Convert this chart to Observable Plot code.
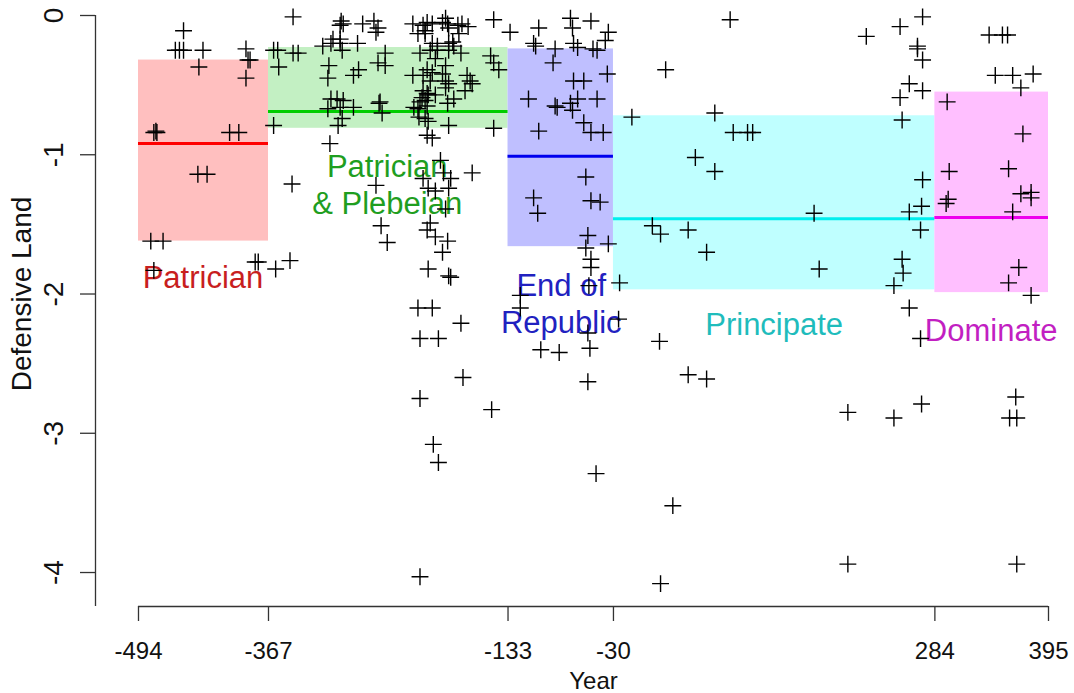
<!DOCTYPE html>
<html>
<head>
<meta charset="utf-8">
<script src="https://cdn.jsdelivr.net/npm/d3@7"></script>
<script src="https://cdn.jsdelivr.net/npm/@observablehq/plot@0.6"></script>
<style>
  html, body { margin: 0; padding: 0; background: #ffffff; overflow: hidden; }
</style>
</head>
<body>
<div id="chart"></div>
<script>
// ---- tick labels ----
const xTicks = [-494, -367, -133, -30, 284, 395];
const yTicks = [0, -1, -2, -3, -4];

// ---- periods ----
const periodNames = ["Patrician", "Patrician\n& Plebeian", "End of\nRepublic", "Principate", "Dominate"];
const periodStart = [-494, -367, -133, -30, 284];
const periodEnd = [-367, -133, -30, 284, 395];
const periodMean = [-0.92, -0.69, -1.01, -1.46, -1.45];
const periodHigh = [-0.32, -0.23, -0.24, -0.72, -0.55];
const periodLow = [-1.62, -0.81, -1.66, -1.97, -1.99];
const labelYear = [-431, -251, -81, 127, 339];
const labelValue = [-1.87, -1.21, -2.06, -2.21, -2.25];

// ---- observations ----
const years = [
  // Patrician
  -482, -470, -479, -479, -477, -476, -458, -454, -450, -450, -431, -435, -436, -427, -405, -396,
  -389, -387, -385, -389, -380, -377,
  // Patrician & Plebeian
  -362, -358, -357, -362, -360, -346, -343, -343, -338, -344, -307, -296, -294, -297, -275, -264,
  -260, -262, -314, -306, -304, -297, -297, -295, -280, -260, -308, -309, -279, -284, -306, -300,
  -294, -309, -297, -284, -259, -295, -299, -262, -257, -253, -253, -258, -256, -251,
  -226, -216, -212, -207, -197, -194, -192, -191, -182, -178, -172, -147, -221, -214, -214, -181,
  -207, -202, -191, -187, -186, -219, -209, -202, -191, -179, -204, -150, -147, -142, -194, -226,
  -216, -212, -209, -207, -197, -194, -191, -173, -170, -168, -175, -194, -216, -212, -217, -211,
  -204, -214, -219, -212, -225, -221, -192, -186, -220, -214, -211, -191, -147, -212, -207,
  -199, -196, -168, -216, -189, -211, -204, -191, -194, -209, -212, -204, -192, -197, -211, -191,
  -189, -221, -207, -179, -219, -201, -177, -219, -149, -206, -201, -219,
  // End of Republic
  -131, -103, -72, -52, -70, -35, -38, -108, -106, -87, -89, -69, -65, -50, -46, -36, -69, -59,
  -113, -103, -87, -85, -72, -65, -70, -46, -59, -52, -40, -57, -108, -104, -52, -43, -55, -57,
  -35, -52, -52, -54, -121, -121, -101, -83, -55, -53, -55, -47,
  // Principate
  -24, -25, -12, 21, 84, 69, 87, 101, 106, 50, 69, 166, 8, 16, 43, 61, 171, 15, 43, 61, 199, 28,
  16, 199, 217, 250, 272, 267, 267, 272, 259, 272, 250, 252, 272, 271, 259, 270, 252, 253, 244,
  259, 270, 244, 271,
  // Dominate
  337, 350, 355, 343, 360, 380, 368, 296, 370, 298, 356, 297, 295, 368, 378, 378, 360, 366, 356,
  378, 363, 357, 364, 364
];
const values = [
  // Patrician
  -1.62, -1.62, -1.83, -0.84, -0.83, -0.84, -0.25, -0.25, -0.25, -0.11, -0.25, -0.37, -1.14, -1.14, -0.84, -0.84,
  -0.24, -0.32, -0.32, -0.45, -1.77, -1.77,
  // Patrician & Plebeian
  -0.25, -0.25, -0.37, -0.79, -1.82, -1.76, -0.01, -0.27, -0.27, -1.21, -0.92, -0.04, -0.06, -0.07, -0.06, -0.04,
  -0.09, -0.12, -0.22, -0.20, -0.17, -0.17, -0.20, -0.25, -0.20, -0.34, -0.36, -0.45, -0.39, -0.43, -0.60, -0.60,
  -0.61, -0.67, -0.66, -0.66, -0.63, -0.74, -0.79, -1.22, -1.51, -0.27, -0.36, -0.62, -0.70, -1.63,
  -0.06, -0.07, -0.05, -0.06, -0.05, -0.02, -0.06, -0.09, -0.07, -0.06, -0.08, -0.03, -0.13, -0.13, -0.11, -0.13,
  -0.20, -0.22, -0.20, -0.19, -0.22, -0.27, -0.25, -0.25, -0.25, -0.27, -0.31, -0.29, -0.34, -0.39, -0.36, -0.43,
  -0.43, -0.39, -0.47, -0.41, -0.42, -0.47, -0.49, -0.43, -0.47, -0.49, -0.54, -0.52, -0.54, -0.56, -0.59, -0.57,
  -0.57, -0.61, -0.62, -0.65, -0.66, -0.67, -0.63, -0.60, -0.73, -0.74, -0.76, -0.79, -0.81, -0.86, -0.88,
  -1.04, -1.13, -1.13, -1.17, -1.17, -1.24, -1.26, -1.24, -1.39, -1.49, -1.54, -1.59, -1.62, -1.70, -1.82, -1.87,
  -1.88, -2.10, -2.10, -2.21, -2.32, -2.32, -2.60, -2.75, -2.83, -3.08, -3.21, -4.03,
  // End of Republic
  -0.12, -0.09, -0.02, -0.04, -0.09, -0.12, -0.18, -0.20, -0.22, -0.24, -0.34, -0.20, -0.23, -0.24, -0.25, -0.42, -0.47, -0.47,
  -0.60, -0.83, -0.65, -0.66, -0.63, -0.60, -0.68, -0.60, -0.77, -0.84, -0.84, -1.16, -1.31, -1.42, -1.33, -1.34, -1.58, -1.67,
  -1.64, -1.75, -1.81, -1.94, -2.01, -2.10, -2.40, -2.42, -2.28, -2.39, -2.63, -3.29,
  // Principate
  -1.92, -2.18, -0.73, -0.39, -0.03, -0.70, -0.84, -0.84, -0.84, -1.02, -1.12, -1.42, -1.51, -1.57, -1.54, -1.70, -1.82, -2.34, -2.58, -2.61, -2.85, -3.52,
  -4.08, -3.94, -0.15, -0.08, -0.01, -0.22, -0.24, -0.32, -0.49, -0.54, -0.59, -0.75, -1.18, -1.37, -1.41, -1.54, -1.75, -1.85, -1.94,
  -2.10, -2.32, -2.89, -2.79,
  // Dominate
  -0.14, -0.14, -0.14, -0.43, -0.43, -0.42, -0.52, -0.62, -0.85, -1.12, -1.10, -1.32, -1.35, -1.28, -1.27, -1.31, -1.41, -1.81, -1.92,
  -2.01, -2.74, -2.89, -2.89, -3.94
];

// ---- styles ----
const rectFill = ["#ffbfbf", "#c3f0c3", "#bfbfff", "#bfffff", "#ffbfff"];
const lineColor = ["#ff0000", "#00cd00", "#0000ee", "#00eeee", "#ee00ee"];
const textColor = ["#c81e1e", "#1f9e1f", "#2121c0", "#1fbcbc", "#c21fc2"];

const idx = periodNames.map((_, i) => i);
const points = years.map((y, i) => ({year: y, value: values[i]}));
const xDomain = [-536, 395];
const yDomain = [-4.244, 0];
const axisColor = "#333333";
const font = "'Liberation Sans', Arial, Helvetica, sans-serif";

const chart = Plot.plot({
  width: 1074,
  height: 693,
  marginLeft: 95,
  marginRight: 26,
  marginTop: 15,
  marginBottom: 87,
  x: {domain: xDomain},
  y: {domain: yDomain},
  color: {type: "identity"},
  style: {fontFamily: font, background: "#ffffff", color: "#111"},
  marks: [
    Plot.rect(idx, {
      x1: i => periodStart[i], x2: i => periodEnd[i],
      y1: i => periodLow[i], y2: i => periodHigh[i],
      fill: i => rectFill[i]
    }),
    Plot.ruleY(idx, {
      y: i => periodMean[i], x1: i => periodStart[i], x2: i => periodEnd[i],
      stroke: i => lineColor[i], strokeWidth: 3
    }),
    Plot.text(idx, {
      x: i => labelYear[i], y: i => labelValue[i], text: i => periodNames[i],
      fill: i => textColor[i], fontSize: 31, lineHeight: 1.19
    }),
    Plot.dot(points, {
      x: "year", y: "value", symbol: "plus", r: 5.5,
      stroke: "#000000", strokeWidth: 1.4
    }),
    // axes
    Plot.ruleX([xDomain[0]], {stroke: axisColor, strokeWidth: 1.3}),
    Plot.ruleY([yDomain[0]], {x1: xTicks[0], x2: xTicks[xTicks.length - 1], stroke: axisColor, strokeWidth: 1.3}),
    Plot.axisX({
      ticks: xTicks, tickSize: 15, tickPadding: 20, fontSize: 24,
      tickFormat: d => String(d), label: null, stroke: axisColor, strokeWidth: 1.3, color: "#111"
    }),
    Plot.axisY({
      ticks: yTicks, tickSize: 15, tickFormat: () => "", label: null,
      stroke: axisColor, strokeWidth: 1.3
    }),
    Plot.text(yTicks, {
      y: d => d, text: d => String(d), frameAnchor: "left", dx: -41,
      rotate: -90, fontSize: 28, fill: "#111", textAnchor: "middle", lineAnchor: "middle"
    }),
    Plot.text(["Year"], {
      x: (xTicks[0] + xTicks[xTicks.length - 1]) / 2, frameAnchor: "bottom",
      dy: 75, fontSize: 24, fill: "#111", textAnchor: "middle", lineAnchor: "middle"
    }),
    Plot.text(["Defensive Land"], {
      y: (yTicks[0] + yTicks[yTicks.length - 1]) / 2, frameAnchor: "left",
      dx: -73, rotate: -90, fontSize: 28, fill: "#111", textAnchor: "middle", lineAnchor: "middle"
    })
  ]
});
document.getElementById("chart").appendChild(chart);
</script>
</body>
</html>
